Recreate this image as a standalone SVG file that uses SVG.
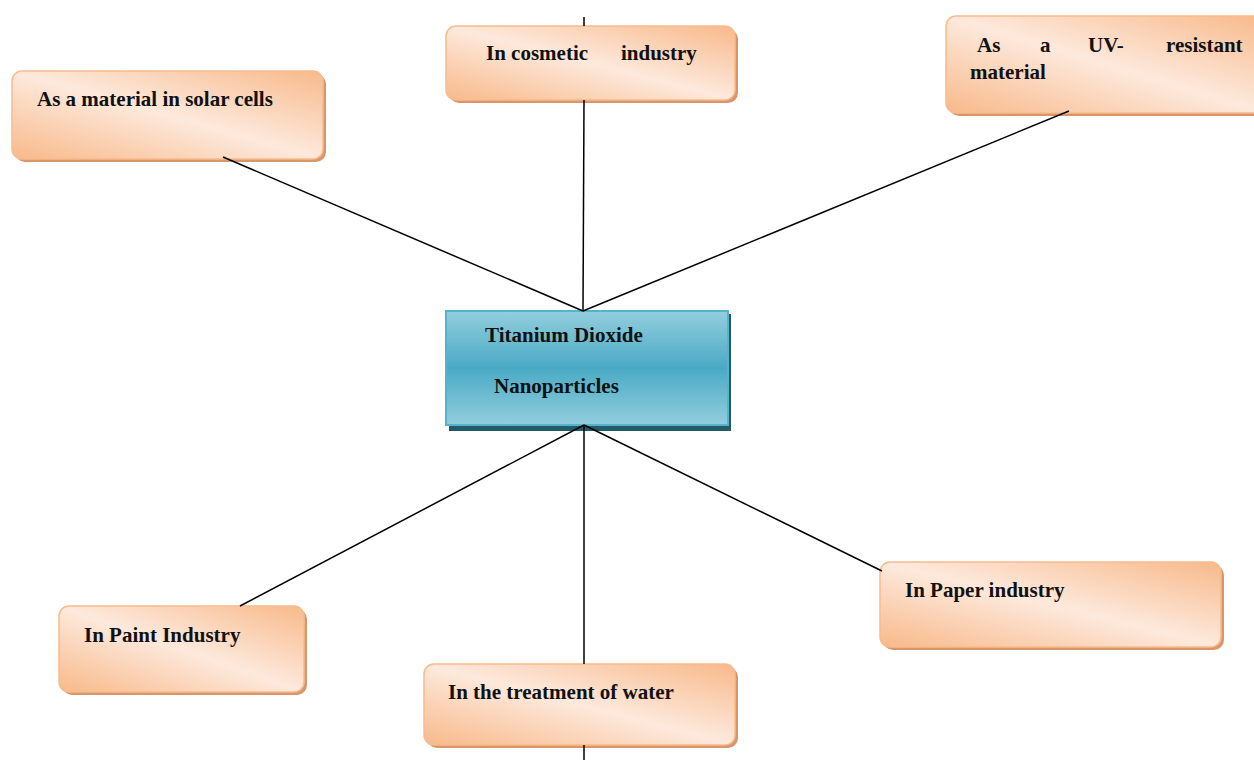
<svg xmlns="http://www.w3.org/2000/svg" width="1254" height="760" viewBox="0 0 1254 760">
<defs>
<linearGradient id="og" x1="0" y1="1" x2="1" y2="0">
<stop offset="0" stop-color="#f8b98a"/>
<stop offset="0.5" stop-color="#fde9dc"/>
<stop offset="1" stop-color="#f8b98a"/>
</linearGradient>
<linearGradient id="bg" x1="0" y1="0" x2="0" y2="1">
<stop offset="0" stop-color="#93cedd"/>
<stop offset="0.5" stop-color="#4aaac5"/>
<stop offset="1" stop-color="#93cedd"/>
</linearGradient>
<style>
.sh{fill:#d9966a;}
.bx{fill:url(#og);stroke:#f6bc8e;stroke-width:1.5;}
.t{font-family:"Liberation Serif","Times New Roman",serif;font-weight:bold;font-size:21px;fill:#111;}
.c line{stroke:#000;stroke-width:1.5;}
</style>
</defs>
<rect width="1254" height="760" fill="#fff"/>
<g id="solar">
<rect class="sh" x="15" y="74" width="311" height="88" rx="10"/>
<rect class="bx" x="12" y="71" width="311" height="88" rx="10"/>
<text class="t" x="37" y="106">As a material in solar cells</text>
</g>
<g id="cosmetic">
<rect class="sh" x="449" y="29" width="289" height="74" rx="10"/>
<rect class="bx" x="446" y="26" width="289" height="74" rx="10"/>
<text class="t" x="486" y="60">In cosmetic</text>
<text class="t" x="621" y="60">industry</text>
</g>
<g id="uv">
<rect class="sh" x="949" y="19" width="320" height="97" rx="10"/>
<rect class="bx" x="946" y="16" width="320" height="97" rx="10"/>
<text class="t" x="977" y="52">As</text>
<text class="t" x="1040" y="52">a</text>
<text class="t" x="1088" y="52">UV-</text>
<text class="t" x="1166" y="52">resistant</text>
<text class="t" x="970" y="79">material</text>
</g>
<g id="center">
<rect x="449" y="314" width="282" height="117" fill="#215a69"/>
<rect x="446" y="311" width="282" height="114" fill="url(#bg)" stroke="#56b3cc" stroke-width="2"/>
<text class="t" x="485" y="342">Titanium Dioxide</text>
<text class="t" x="494" y="393">Nanoparticles</text>
</g>
<g id="paint">
<rect class="sh" x="62" y="609" width="245" height="86" rx="10"/>
<rect class="bx" x="59" y="606" width="245" height="86" rx="10"/>
<text class="t" x="84" y="642">In Paint Industry</text>
</g>
<g id="water">
<rect class="sh" x="427" y="667" width="311" height="81" rx="10"/>
<rect class="bx" x="424" y="664" width="311" height="81" rx="10"/>
<text class="t" x="448" y="699">In the treatment of water</text>
</g>
<g id="paper">
<rect class="sh" x="883" y="565" width="341" height="85" rx="10"/>
<rect class="bx" x="880" y="562" width="341" height="85" rx="10"/>
<text class="t" x="905" y="597">In Paper industry</text>
</g>
<g class="c">
<line x1="583" y1="311" x2="223" y2="157"/>
<line x1="583" y1="311" x2="584" y2="100"/>
<line x1="584" y1="17" x2="584" y2="26"/>
<line x1="583" y1="311" x2="1069" y2="111"/>
<line x1="584" y1="425" x2="240" y2="606"/>
<line x1="584" y1="425" x2="584" y2="664"/>
<line x1="584" y1="745" x2="584" y2="760"/>
<line x1="584" y1="425" x2="882" y2="571"/>
</g>
</svg>
